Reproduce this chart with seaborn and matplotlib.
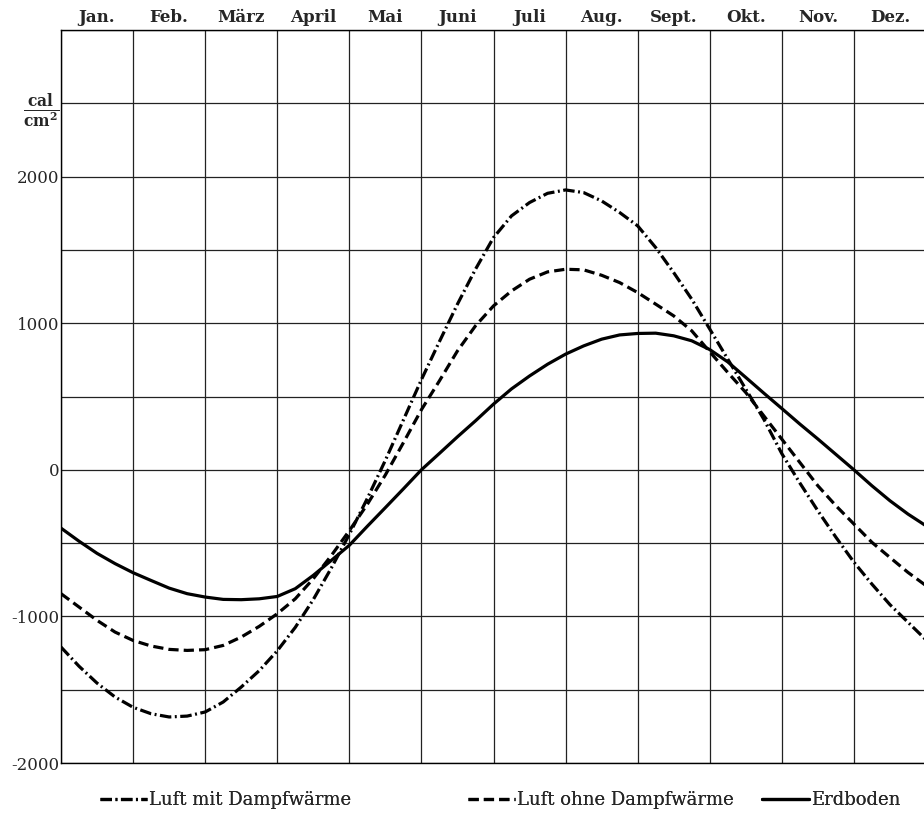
import numpy as np
import pandas as pd
import matplotlib
matplotlib.use("Agg")
import matplotlib.pyplot as plt
import seaborn as sns
from matplotlib.lines import Line2D

# ---- data (x in months from 1 Jan, quarter-month steps) ----
months_x = [i / 4 for i in range(49)]
luft_mit = [-1209, -1340, -1455, -1550, -1620, -1664, -1686, -1680, -1652,
            -1584, -1482, -1370, -1235, -1075, -885, -670, -440,
            -195, 65, 340, 615, 875, 1130, 1368, 1584,
            1732, 1823, 1886, 1909, 1891, 1834, 1755, 1664,
            1516, 1345, 1164, 960, 755, 550, 345, 110,
            -90, -280, -460, -630, -780, -920, -1040, -1160]
luft_ohne = [-845, -936, -1027, -1107, -1164, -1202, -1225, -1232, -1227,
             -1198, -1141, -1068, -982, -880, -743, -585, -415,
             -235, -35, 185, 410, 607, 811, 982, 1118,
             1220, 1300, 1350, 1368, 1364, 1327, 1277, 1209,
             1130, 1050, 948, 805, 664, 527, 368, 209,
             50, -109, -245, -370, -495, -598, -700, -790]
erdboden = [-398, -487, -570, -640, -702, -755, -807, -845, -868,
            -884, -886, -880, -864, -811, -720, -618, -515,
            -385, -258, -130, 0, 112, 225, 334, 448,
            552, 640, 720, 789, 845, 891, 920, 930,
            932, 914, 880, 820, 736, 630, 523, 418,
            312, 210, 105, 0, -109, -211, -302, -382]
month_labels = ["Jan.", "Feb.", "März", "April", "Mai", "Juni", "Juli", "Aug.",
                "Sept.", "Okt.", "Nov.", "Dez."]
series_names = ["Luft mit Dampfwärme", "Luft ohne Dampfwärme", "Erdboden"]
ytick_vals = [-2000, -1000, 0, 1000, 2000]

sns.set_style("white")
plt.rcParams["font.family"] = ["DejaVu Serif"]
plt.rcParams["mathtext.fontset"] = "dejavuserif"

fig = plt.figure(figsize=(9.24, 8.17), dpi=100)
ax = fig.add_axes([61 / 924, 54 / 817, 865 / 924, 733 / 817])

df = pd.DataFrame({"x": months_x * 3,
                   "y": luft_mit + luft_ohne + erdboden,
                   "s": sum([[n] * len(months_x) for n in series_names], [])})

dash_styles = {
    series_names[0]: (3.6, 1.1, 0.6, 1.1),
    series_names[1]: (3.2, 1.6),
    series_names[2]: "",
}
sns.lineplot(data=df, x="x", y="y", style="s", dashes=dash_styles,
             color="black", linewidth=2.3, ax=ax, legend=False, sort=False)
for ln in ax.lines:
    ln.set_solid_joinstyle("round")
    ln.set_dash_joinstyle("round")

ax.set_xlim(0, 12)
ax.set_ylim(-2000, 3000)

# ticks & grid
ax.set_xticks(np.arange(0, 13, 1), minor=True)
ax.set_xticks(np.arange(0.5, 12, 1))
ax.set_xticklabels(month_labels, fontsize=12, fontweight="bold")
ax.xaxis.tick_top()
ax.set_yticks(np.arange(-2000, 3001, 500), minor=True)
ax.set_yticks(ytick_vals + [2500])
ax.set_yticklabels([str(v) for v in ytick_vals] + [r"$\frac{\mathbf{cal}}{\mathbf{cm^2}}$"],
                   fontsize=12)
ax.get_yticklabels()[-1].set_fontsize(16)
ax.xaxis.grid(True, which="minor", color="#222222", linewidth=0.9)
ax.xaxis.grid(False, which="major")
ax.yaxis.grid(True, which="both", color="#222222", linewidth=0.9)
ax.tick_params(which="both", length=0, pad=1)
ax.tick_params(axis="x", pad=3)
ax.set_xlabel("")
ax.set_ylabel("")
for sp in ax.spines.values():
    sp.set_color("black")
    sp.set_linewidth(1.0)

handles = [
    Line2D([], [], color="black", lw=2.3, dashes=dash_styles[series_names[0]]),
    Line2D([], [], color="black", lw=2.3, dashes=dash_styles[series_names[1]]),
    Line2D([], [], color="black", lw=2.3),
]
leg_x = [100, 468, 762]
for h, name, lx in zip(handles, series_names, leg_x):
    lg = fig.legend([h], [name], loc="center left",
                    bbox_to_anchor=(lx / 924, 1 - 800 / 817),
                    frameon=False, fontsize=13, handlelength=2.6,
                    handletextpad=0.1, borderpad=0, borderaxespad=0)
    fig.add_artist(lg)

fig.savefig("out.png", dpi=100)
